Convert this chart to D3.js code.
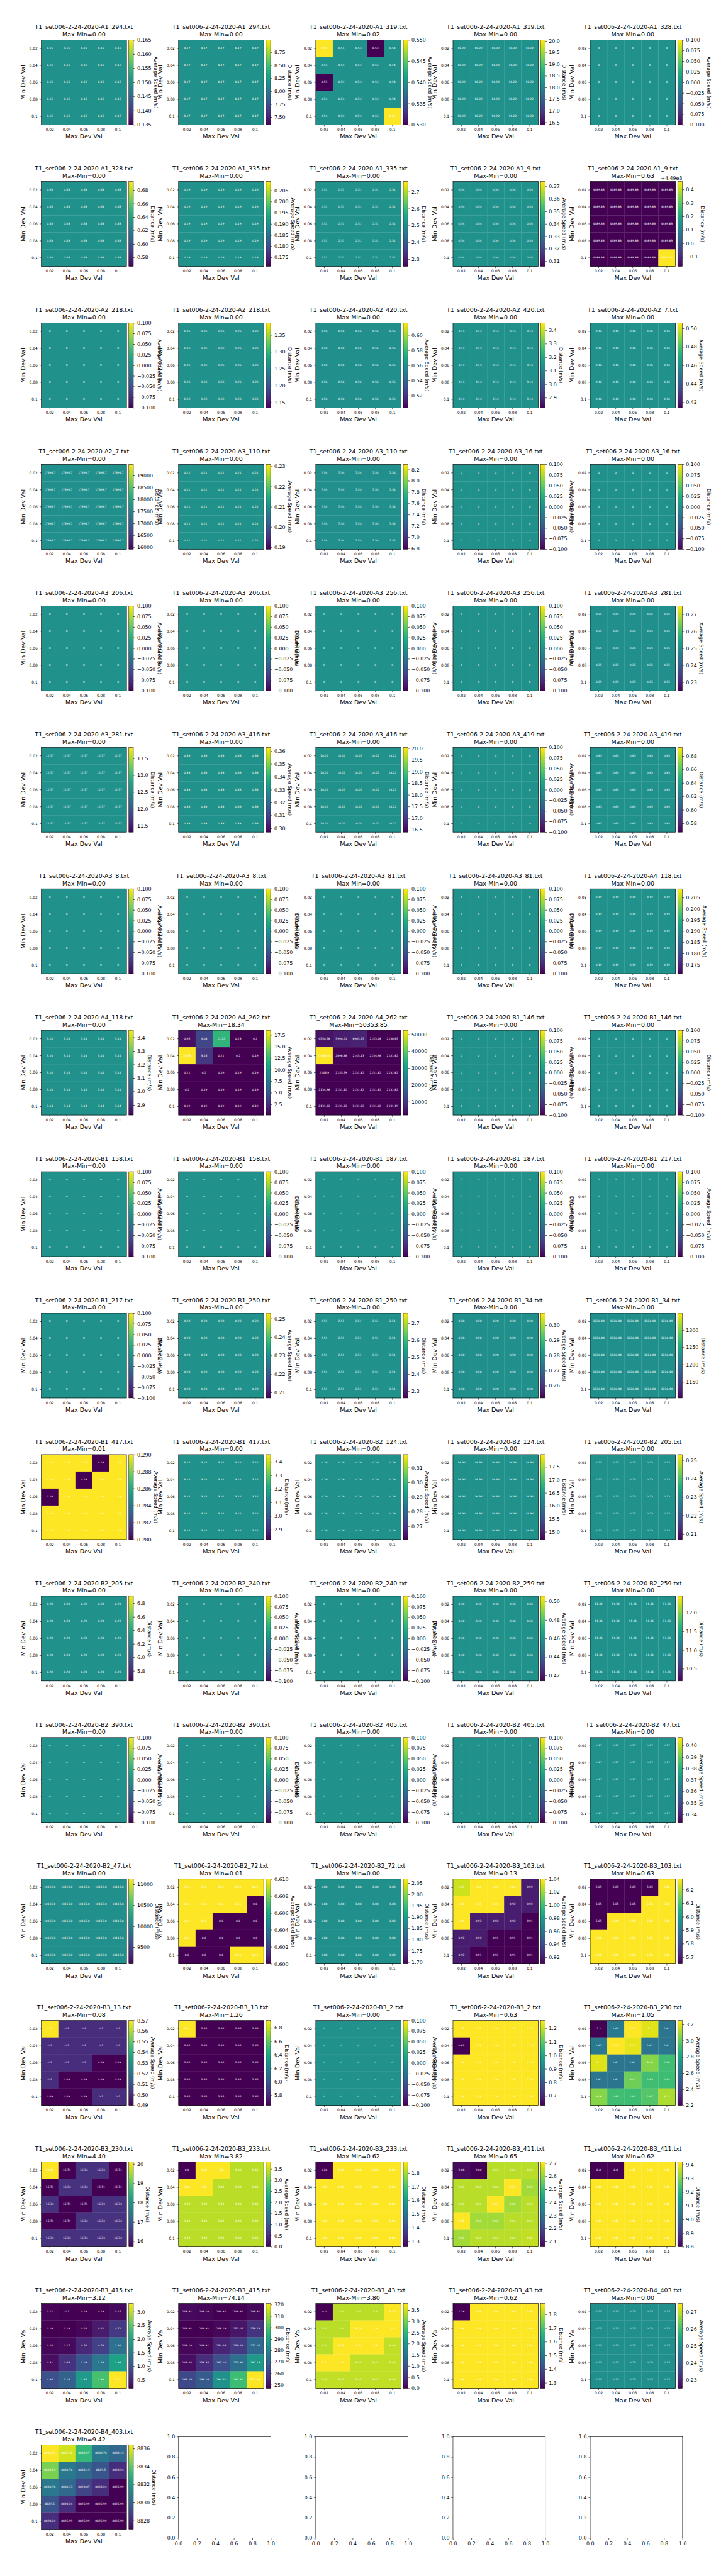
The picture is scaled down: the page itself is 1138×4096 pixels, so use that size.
<!DOCTYPE html>
<html>
<head>
<meta charset="utf-8">
<script src="https://cdn.jsdelivr.net/npm/d3@7/dist/d3.min.js"></script>
<style>
html,body{margin:0;padding:0;background:#fff}
svg{display:block}
text{font-family:"DejaVu Sans",sans-serif;fill:#000}
</style>
</head>
<body>
<div id="chart"></div>
<script>
const titlePrefix = "T1_set006-2-24-2020-";
const devLabels = ["0.02","0.04","0.06","0.08","0.1"];
const speedLabel = "Average Speed (m/s)";
const distanceLabel = "Distance (m/s)";
const xAxisLabel = "Max Dev Val";
const yAxisLabel = "Min Dev Val";
const emptyPanelCount = 4;
const emptyTicks = [0,0.2,0.4,0.6,0.8,1.0];

const fileIds = ["A1_294","A1_319","A1_328","A1_335","A1_9","A2_218","A2_420","A2_7","A3_110","A3_16","A3_206","A3_256","A3_281","A3_416","A3_419","A3_8","A3_81","A4_118","A4_262","B1_146","B1_158","B1_187","B1_217","B1_250","B1_34","B1_417","B2_124","B2_205","B2_240","B2_259","B2_390","B2_405","B2_47","B2_72","B3_103","B3_13","B3_2","B3_230","B3_233","B3_411","B3_415","B3_43","B4_403"];

// non-uniform panels, rows = Min Dev Val, columns = Max Dev Val
const speedA1_319 = [[.55,.54,.54,.53,.54],[.54,.54,.54,.54,.54],[.53,.54,.54,.54,.54],[.54,.54,.54,.54,.54],[.54,.54,.54,.54,.55]];
const distA1_9 = [[4489.83,4489.83,4489.83,4489.83,4489.83],[4489.83,4489.83,4489.83,4489.83,4489.83],[4489.83,4489.83,4489.83,4489.83,4489.83],[4489.83,4489.83,4489.83,4489.83,4489.83],[4489.83,4489.83,4489.83,4489.83,4490.46]];
const speedA4_262 = [[.95,4.08,12.22,.23,.2],[18.53,3.16,.21,.2,.19],[.21,.2,.19,.19,.19],[.2,.19,.19,.19,.19],[.19,.19,.19,.19,.19]];
const distA4_262 = [[4550.78,5990.21,6983.55,2153.18,2136.85],[52485.04,2696.66,2143.13,2134.96,2131.82],[2146.9,2135.59,2131.82,2131.82,2131.82],[2134.96,2131.82,2131.82,2131.82,2131.82],[2131.82,2131.82,2131.82,2131.82,2131.19]];
const speedB1_417 = [[.29,.29,.29,.28,.29],[.29,.29,.28,.29,.29],[.28,.29,.29,.29,.29],[.29,.29,.29,.29,.29],[.29,.29,.29,.29,.29]];
const speedB2_72 = [[.61,.61,.61,.61,.61],[.61,.61,.61,.61,.6],[.61,.61,.6,.6,.6],[.61,.6,.6,.6,.6],[.6,.6,.6,.61,.61]];
const speedB3_103 = [[1.03,1.04,1.04,1.04,.92],[1.04,1.04,1.04,.92,.92],[1.04,.92,.92,.92,.91],[.92,.92,.91,.91,.91],[.92,.91,.91,.91,.91]];
const distB3_103 = [[5.65,5.65,5.65,5.65,6.28],[5.65,5.65,5.65,6.28,6.28],[5.65,6.28,6.28,6.28,6.28],[6.28,6.28,6.28,6.28,6.28],[6.28,6.28,6.28,6.28,6.28]];
const speedB3_13 = [[.57,.5,.5,.5,.5],[.5,.5,.5,.5,.5],[.5,.5,.5,.49,.49],[.5,.49,.49,.49,.49],[.49,.49,.49,.5,.5]];
const distB3_13 = [[6.91,5.65,5.65,5.65,5.65],[5.65,5.65,5.65,5.65,5.65],[5.65,5.65,5.65,5.65,5.65],[5.65,5.65,5.65,5.65,5.65],[5.65,5.65,5.65,5.65,5.65]];
const distB3_2 = [[1.26,1.26,1.26,1.26,1.26],[.63,1.26,1.26,1.26,1.26],[1.26,1.26,1.26,1.26,1.26],[1.26,1.26,1.26,1.26,1.26],[1.26,1.26,1.26,1.26,1.26]];
const speedB3_230 = [[2.2,2.63,3.25,3.2,2.61],[2.63,3.25,3.21,2.61,2.61],[3.2,2.61,2.61,3.06,2.93],[2.61,2.61,3.02,2.93,2.92],[3.06,2.93,2.92,2.97,3.12]];
const distB3_230 = [[20.11,15.71,16.34,16.34,15.71],[15.71,16.34,16.34,15.71,15.71],[16.34,15.71,15.71,16.34,16.34],[15.71,15.71,16.34,16.34,16.34],[16.34,16.34,16.34,16.34,16.34]];
const speedB3_233 = [[0,3.82,3.8,3.43,3.43],[3.82,3.8,3.43,3.43,3.43],[3.43,3.43,3.43,3.43,3.43],[3.43,3.43,3.43,3.43,3.43],[3.43,3.43,3.43,3.43,3.43]];
const distB3_233 = [[1.26,1.88,1.88,1.88,1.88],[1.88,1.88,1.88,1.88,1.88],[1.88,1.88,1.88,1.88,1.88],[1.88,1.88,1.88,1.88,1.88],[1.88,1.88,1.88,1.88,1.88]];
const speedB3_411 = [[2.08,2.06,2.64,2.64,2.64],[2.64,2.64,2.64,2.71,2.62],[2.64,2.64,2.71,2.62,2.64],[2.71,2.62,2.62,2.64,2.64],[2.62,2.64,2.64,2.64,2.65]];
const distB3_411 = [[8.8,8.8,9.42,9.42,9.42],[9.42,9.42,9.42,9.42,9.42],[9.42,9.42,9.42,9.42,9.42],[9.42,9.42,9.42,9.42,9.42],[9.42,9.42,9.42,9.42,9.42]];
const speedB3_415 = [[.22,.2,.19,.19,.27],[.19,.19,.24,.42,.71],[.24,.27,.54,.78,1.34],[.31,.63,1.03,1.43,1.96],[.95,1.16,1.87,2.39,3.31]];
const distB3_415 = [[248.81,248.18,246.92,246.92,248.81],[246.92,246.92,248.18,251.05,258.23],[248.18,248.81,254.46,259.49,272.05],[249.44,256.35,265.14,273.94,287.13],[263.26,268.28,284.62,297.81,321.06]];
const speedB3_43 = [[0,3.4,3.4,3.4,3.78],[3.4,3.4,3.78,3.8,3.8],[3.4,3.78,3.8,3.8,3.43],[3.8,3.8,3.43,3.43,3.43],[3.43,3.43,3.43,3.43,3.43]];
const distB3_43 = [[1.26,1.88,1.88,1.88,1.88],[1.88,1.88,1.88,1.88,1.88],[1.88,1.88,1.88,1.88,1.88],[1.88,1.88,1.88,1.88,1.88],[1.88,1.88,1.88,1.88,1.88]];
const distB4_403 = [[8836.41,8835.78,8833.27,8830.76,8830.13],[8834.53,8830.76,8830.13,8829.5,8828.24],[8830.76,8830.13,8828.87,8828.24,8826.99],[8829.5,8828.24,8826.99,8826.99,8826.99],[8828.24,8826.99,8826.99,8826.99,8826.99]];

// one entry per file: a single number when the whole 5x5 grid shows that value
const speedValues = [.15,speedA1_319,0,.19,.34,0,.56,.46,.21,0,0,0,.25,.33,0,0,0,.19,speedA4_262,0,0,0,0,.23,.28,speedB1_417,.29,.23,0,.46,0,0,.37,speedB2_72,speedB3_103,speedB3_13,0,speedB3_230,speedB3_233,speedB3_411,speedB3_415,speedB3_43,.25];
const distanceValues = [8.17,18.22,.63,2.51,distA1_9,1.26,3.14,17696.7,7.54,0,0,0,12.57,18.22,.63,0,0,3.14,distA4_262,0,0,0,0,2.51,1226.44,3.14,16.34,6.28,0,11.31,0,0,10115.0,1.88,distB3_103,distB3_13,distB3_2,distB3_230,distB3_233,distB3_411,distB3_415,distB3_43,distB4_403];

// layout, in reference pixels
const W = 2000, H = 7200;
const colCount = 5;
const col0 = 115.4, colStep = 383.3, row0 = 111.7, rowStep = 395.4;
const hmW = 238, hmH = 237.2, cbGap = 6.5, cbW = 12.7;
const emptyW = 258, emptyH = 283;
const tickLen = 4.86;
const fsTitle = 16.6, fsLabel = 16.67, fsTick = 10.4, fsCbar = 13.89, fsCell = 7.8;

const svg = d3.select("#chart").append("svg")
  .attr("width",1138).attr("height",4096)
  .attr("viewBox",`0 0 ${W} ${H}`).attr("preserveAspectRatio","none");

// shared colorbar gradient
const grad = svg.append("defs").append("linearGradient").attr("id","viridisBar")
  .attr("x1",0).attr("x2",0).attr("y1",1).attr("y2",0);
d3.range(0,257,4).forEach(i=>{
  grad.append("stop").attr("offset",i/256).attr("stop-color",d3.interpolateViridis(i/256));
});

function cellText(v, flat){
  if (flat && v===0) return "0";
  return Number.isInteger(v) ? v.toFixed(1) : String(v);
}
function autoTicks(vmin, vmax){
  const nbins = 8;
  const raw = (vmax-vmin)/nbins;
  const scale = Math.pow(10, Math.floor(Math.log10(raw)));
  const step = [1,2,2.5,5,10].map(s=>s*scale).find(s=>s>=raw);
  const lo = Math.ceil(vmin/step-1e-9), hi = Math.floor(vmax/step+1e-9);
  const ticks = d3.range(lo,hi+1).map(k=>k*step);
  let dec = 0;
  while (dec<12 && Math.abs(step*Math.pow(10,dec)-Math.round(step*Math.pow(10,dec)))>1e-7) dec++;
  return {ticks, dec};
}
const minusFix = s => s.replace("-","\u2212");

function styleAxis(g, fs){
  g.select(".domain").remove();
  g.selectAll(".tick line").attr("stroke","#000").attr("stroke-width",1.1);
  g.selectAll(".tick text").attr("font-size",fs).attr("font-family","'DejaVu Sans',sans-serif").attr("fill","#000");
  g.attr("font-size",fs).attr("font-family","'DejaVu Sans',sans-serif");
}

function drawHeatPanel(idx, fileId, values, metricLabel){
  const cx = col0 + colStep*(idx%colCount);
  const cy = row0 + rowStep*Math.floor(idx/colCount);
  const g = svg.append("g").attr("transform",`translate(${cx},${cy})`);
  const flat = typeof values === "number";
  const grid = flat ? devLabels.map(()=>devLabels.map(()=>values)) : values;
  const all = grid.flat();
  let vmin = d3.min(all), vmax = d3.max(all);
  const spread = vmax-vmin;
  if (spread===0){
    const e = vmax===0 ? 0.1 : Math.abs(vmax)*0.1;
    vmin -= e; vmax += e;
  }
  const x = d3.scaleBand().domain(devLabels).range([0,hmW]);
  const y = d3.scaleBand().domain(devLabels).range([0,hmH]);
  const color = d3.scaleSequential(d3.interpolateViridis).domain([vmin,vmax]);

  const cells = [];
  grid.forEach((row,r)=>row.forEach((v,c)=>cells.push({r,c,v})));
  g.selectAll("rect.cell").data(cells).enter().append("rect").attr("class","cell")
    .attr("x",d=>x(devLabels[d.c])).attr("y",d=>y(devLabels[d.r]))
    .attr("width",x.bandwidth()+0.4).attr("height",y.bandwidth()+0.4)
    .attr("fill",d=>color(d.v));
  g.selectAll("text.cellv").data(cells).enter().append("text").attr("class","cellv")
    .attr("x",d=>x(devLabels[d.c])+x.bandwidth()/2)
    .attr("y",d=>y(devLabels[d.r])+y.bandwidth()/2-1)
    .attr("dy","0.34em").attr("text-anchor","middle")
    .attr("font-size",fsCell).style("fill","#fff")
    .text(d=>cellText(d.v,flat));
  g.append("rect").attr("width",hmW).attr("height",hmH).attr("fill","none").attr("stroke","#000").attr("stroke-width",1.1);

  const gx = g.append("g").attr("transform",`translate(0,${hmH})`)
    .call(d3.axisBottom(x).tickSize(tickLen).tickPadding(4.86));
  styleAxis(gx,fsTick);
  const gy = g.append("g").call(d3.axisLeft(y).tickSize(tickLen).tickPadding(5.5));
  styleAxis(gy,fsTick);

  g.append("text").attr("x",hmW/2).attr("y",hmH+33).attr("dy","0.34em").attr("text-anchor","middle")
    .attr("font-size",fsLabel).text(xAxisLabel);
  g.append("text").attr("transform",`translate(-51.6,${hmH/2}) rotate(-90)`).attr("dy","0.34em").attr("text-anchor","middle")
    .attr("font-size",fsLabel).text(yAxisLabel);
  g.append("text").attr("x",hmW/2).attr("y",-36).attr("dy","0.34em").attr("text-anchor","middle")
    .attr("font-size",fsTitle).text(titlePrefix+fileId+".txt");
  g.append("text").attr("x",hmW/2).attr("y",-15.5).attr("dy","0.34em").attr("text-anchor","middle")
    .attr("font-size",fsTitle).text("Max-Min="+spread.toFixed(2));

  // colorbar
  const cb = g.append("g").attr("transform",`translate(${hmW+cbGap},0)`);
  cb.append("rect").attr("width",cbW).attr("height",hmH).attr("fill","url(#viridisBar)");
  cb.append("rect").attr("width",cbW).attr("height",hmH).attr("fill","none").attr("stroke","#000").attr("stroke-width",0.9);

  const useOffset = spread>0 && spread<1 && vmax>1000;
  const offsetBase = useOffset ? Math.round(vmax/10)*10 : 0;
  const span = useOffset ? [vmin-offsetBase,vmax-offsetBase] : [vmin,vmax];
  const {ticks,dec} = autoTicks(span[0],span[1]);
  const yc = d3.scaleLinear().domain(span).range([hmH,0]);
  const gc = cb.append("g").attr("transform",`translate(${cbW},0)`)
    .call(d3.axisRight(yc).tickValues(ticks).tickSize(tickLen).tickPadding(5.5)
      .tickFormat(v=>minusFix((Math.abs(v)<1e-12?0:v).toFixed(dec))));
  styleAxis(gc,fsCbar);
  let maxW = 0;
  gc.selectAll(".tick text").each(function(){ maxW = Math.max(maxW,this.getComputedTextLength()); });
  cb.append("text").attr("transform",`translate(${cbW+11+maxW+11.5},${hmH/2}) rotate(90)`)
    .attr("dy","0.34em").attr("text-anchor","middle").attr("font-size",fsCbar).text(metricLabel);
  if (useOffset){
    cb.append("text").attr("x",cbW).attr("y",-8.5).attr("dy","0.34em").attr("text-anchor","end")
      .attr("font-size",fsCbar).text("+"+(offsetBase/1000).toFixed(2)+"e3");
  }
}

function drawEmptyPanel(idx){
  const cx = col0 + colStep*(idx%colCount);
  const cy = row0 + rowStep*Math.floor(idx/colCount) + (hmH-emptyH)/2;
  const g = svg.append("g").attr("transform",`translate(${cx},${cy})`);
  const x = d3.scaleLinear().domain([0,1]).range([0,emptyW]);
  const y = d3.scaleLinear().domain([0,1]).range([emptyH,0]);
  g.append("rect").attr("width",emptyW).attr("height",emptyH).attr("fill","#fff").attr("stroke","#000").attr("stroke-width",1.1);
  const gx = g.append("g").attr("transform",`translate(0,${emptyH})`)
    .call(d3.axisBottom(x).tickValues(emptyTicks).tickSize(tickLen).tickPadding(4.86).tickFormat(d3.format(".1f")));
  styleAxis(gx,fsCbar);
  const gy = g.append("g").call(d3.axisLeft(y).tickValues(emptyTicks).tickSize(tickLen).tickPadding(4.86).tickFormat(d3.format(".1f")));
  styleAxis(gy,fsCbar);
}

fileIds.forEach((id,i)=>{
  drawHeatPanel(2*i,   id, speedValues[i],    speedLabel);
  drawHeatPanel(2*i+1, id, distanceValues[i], distanceLabel);
});
d3.range(emptyPanelCount).forEach(i=>drawEmptyPanel(2*fileIds.length+i));
</script>
</body>
</html>
